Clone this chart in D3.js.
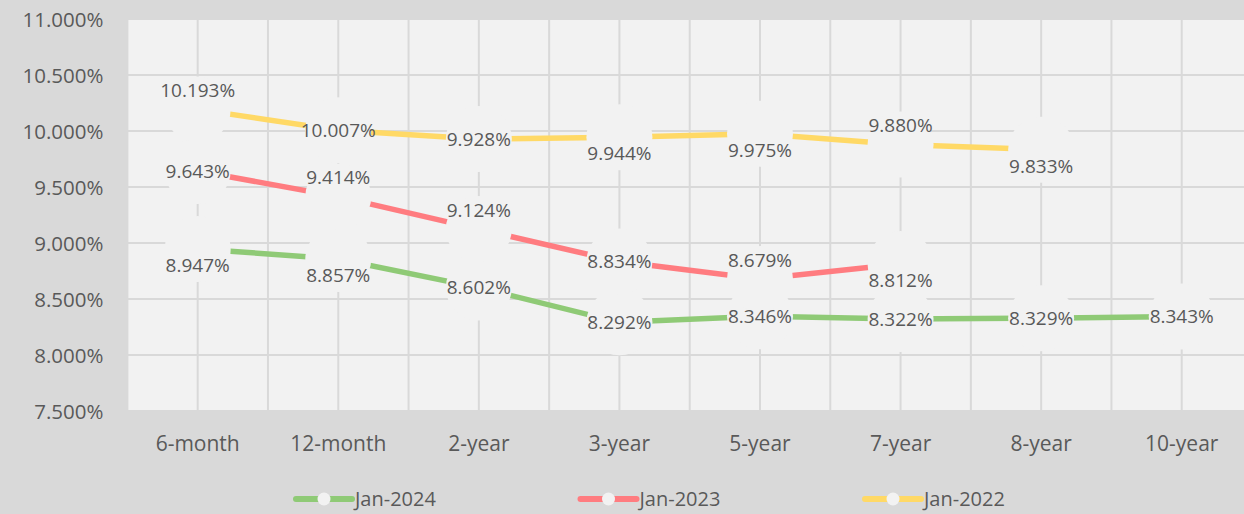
<!DOCTYPE html>
<html>
    <head>
        <meta charset="utf-8" />
        <title>Yield curve</title>
        <script src="https://d3js.org/d3.v7.min.js"></script>
        <style>
            body {
                margin: 0px;
                background: #d9d9d9;
            }
            text {
                font-family: "Open Sans", sans-serif;
                fill: #595959;
            }
        </style>
    </head>
    <body>
        <svg id="chart"></svg>
        <script>

        // values (percent)
        var categories = ["6-month", "12-month", "2-year", "3-year", "5-year", "7-year", "8-year", "10-year"];
        var jan2024 = [8.947, 8.857, 8.602, 8.292, 8.346, 8.322, 8.329, 8.343];
        var jan2023 = [9.643, 9.414, 9.124, 8.834, 8.679, 8.812, null, null];
        var jan2022 = [10.193, 10.007, 9.928, 9.944, 9.975, 9.880, 9.833, null];
        var yTicks = [7.5, 8, 8.5, 9, 9.5, 10, 10.5, 11];

        // where each data label sits relative to its point: t = above, c = centred, b = below
        var labelPlace = {
            "Jan-2024": ["b", "b", "c", "c", "c", "c", "c", "c"],
            "Jan-2023": ["c", "t", "t", "c", "t", "b"],
            "Jan-2022": ["t", "c", "c", "b", "b", "t", "b"]
        };

        var series = [
            { name: "Jan-2024", values: jan2024, color: "#8fca76" },
            { name: "Jan-2023", values: jan2023, color: "#ff7c80" },
            { name: "Jan-2022", values: jan2022, color: "#ffd966" }
        ];

        var width = 1244;
        var height = 514;
        var margin = { top: 19, left: 127.4, bottom: 103 };
        var plotRight = 1252; // the plot runs past the right edge of the picture

        var svg = d3.select("#chart")
            .attr("width", width)
            .attr("height", height);

        var x = d3.scaleBand()
            .domain(categories)
            .range([margin.left, plotRight]);

        var y = d3.scaleLinear()
            .domain([7.5, 11])
            .range([height - margin.bottom, margin.top]);

        var cx = function(c) { return x(c) + x.bandwidth() / 2; };

        // plot area
        svg.append("rect")
            .attr("x", margin.left)
            .attr("y", y(11))
            .attr("width", plotRight - margin.left)
            .attr("height", y(7.5) - y(11))
            .attr("fill", "#f2f2f2");

        // vertical gridlines at band edges and band centres
        var vLines = [];
        categories.forEach(function(c) {
            vLines.push(x(c));
            vLines.push(cx(c));
        });
        vLines.push(plotRight);

        svg.append("g").selectAll("line")
            .data(vLines)
            .enter().append("line")
            .attr("x1", function(d) { return d; })
            .attr("x2", function(d) { return d; })
            .attr("y1", y(11))
            .attr("y2", y(7.5))
            .attr("stroke", "#d9d9d9")
            .attr("stroke-width", 2);

        svg.append("g").selectAll("line")
            .data(yTicks)
            .enter().append("line")
            .attr("x1", margin.left)
            .attr("x2", plotRight)
            .attr("y1", function(d) { return y(d); })
            .attr("y2", function(d) { return y(d); })
            .attr("stroke", "#d9d9d9")
            .attr("stroke-width", 2);

        // axes
        var yAxis = d3.axisLeft(y)
            .tickValues(yTicks)
            .tickSize(0)
            .tickPadding(24)
            .tickFormat(function(d) { return d.toFixed(3) + "%"; });

        var gy = svg.append("g")
            .attr("transform", "translate(" + margin.left + ",0)")
            .call(yAxis);
        gy.select(".domain").remove();
        gy.selectAll("text")
            .attr("dy", "0.36em")
            .style("font-family", "'Open Sans', sans-serif")
            .style("font-size", "20.5px")
            .attr("fill", "#595959");

        var xAxis = d3.axisBottom(x).tickSize(0);
        var gx = svg.append("g")
            .attr("transform", "translate(0," + y(7.5) + ")")
            .call(xAxis);
        gx.select(".domain").remove();
        gx.selectAll("text")
            .attr("y", 32)
            .attr("dy", "0.36em")
            .style("font-family", "'Open Sans', sans-serif")
            .style("font-size", "21px")
            .attr("fill", "#595959");

        var line = d3.line()
            .defined(function(d) { return d.v != null; })
            .x(function(d) { return cx(d.c); })
            .y(function(d) { return y(d.v); });

        var points = function(s) {
            return s.values.map(function(v, i) {
                return { c: categories[i], v: v, s: s.name, i: i };
            }).filter(function(d) { return d.v != null; });
        };

        // lines
        svg.append("g").selectAll("path")
            .data(series)
            .enter().append("path")
            .attr("d", function(s) { return line(points(s)); })
            .attr("fill", "none")
            .attr("stroke", function(s) { return s.color; })
            .attr("stroke-width", 5.5);

        // big markers, same colour as the plot, that cut the lines around each point
        var allPoints = [];
        series.forEach(function(s) { allPoints = allPoints.concat(points(s)); });

        svg.append("g").selectAll("circle")
            .data(allPoints)
            .enter().append("circle")
            .attr("cx", function(d) { return cx(d.c); })
            .attr("cy", function(d) { return y(d.v); })
            .attr("r", 33)
            .attr("fill", "#f2f2f2");

        // data labels
        var shift = { t: -19, c: 0, b: 16 };
        svg.append("g").selectAll("text")
            .data(allPoints)
            .enter().append("text")
            .attr("x", function(d) { return cx(d.c); })
            .attr("y", function(d) { return y(d.v) + shift[labelPlace[d.s][d.i]]; })
            .attr("dy", "0.36em")
            .attr("text-anchor", "middle")
            .style("font-size", "19px")
            .text(function(d) { return d.v.toFixed(3) + "%"; });

        // legend
        var legendStart = 296;
        var legendStep = 284.5;
        var legendY = 499;

        var legend = svg.append("g").selectAll("g")
            .data(series)
            .enter().append("g")
            .attr("transform", function(d, i) {
                return "translate(" + (legendStart + i * legendStep) + "," + legendY + ")";
            });

        legend.append("line")
            .attr("x1", 0)
            .attr("x2", 56)
            .attr("stroke", function(d) { return d.color; })
            .attr("stroke-width", 6)
            .attr("stroke-linecap", "round");

        legend.append("circle")
            .attr("cx", 28)
            .attr("r", 6.5)
            .attr("fill", "#f2f2f2");

        legend.append("text")
            .attr("x", 59)
            .attr("dy", "0.36em")
            .style("font-size", "20px")
            .text(function(d) { return d.name; });

        </script>
    </body>
</html>
